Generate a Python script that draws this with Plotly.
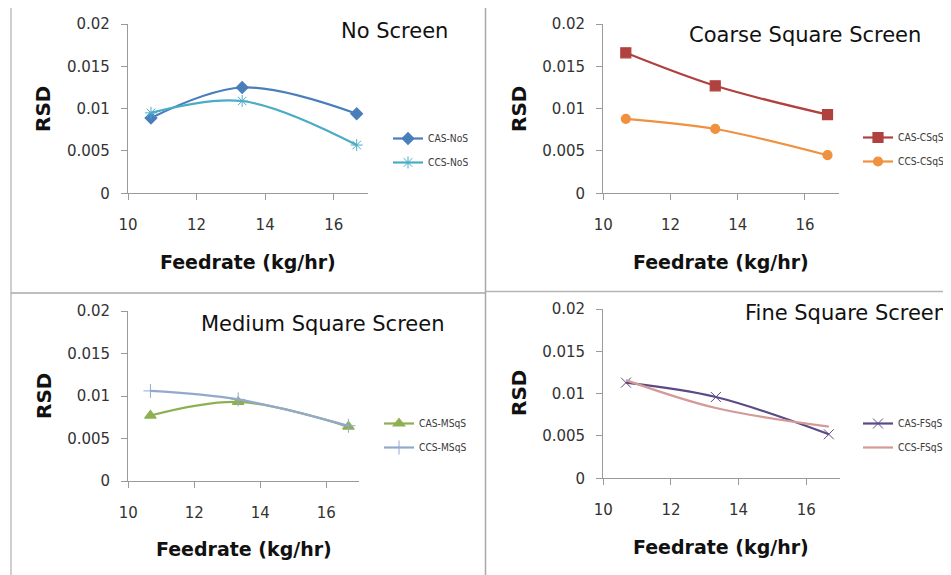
import plotly.graph_objects as go

# the page body adds an 8px margin, so the figure covers page pixels 8..951 x 8..575
OFF = 8
W, H = 951 - OFF, 575 - OFF

# ---- data ----
feedrate = [10.67, 13.33, 16.67]
cas_nos = [0.0089, 0.0125, 0.0094]
ccs_nos = [0.0095, 0.0109, 0.0057]
cas_csqs = [0.0166, 0.0127, 0.0093]
ccs_csqs = [0.0088, 0.0076, 0.0045]
cas_msqs = [0.0077, 0.0093, 0.0064]
ccs_msqs = [0.0106, 0.0096, 0.0065]
cas_fsqs = [0.0113, 0.0096, 0.0052]
ccs_fsqs = [0.0116, 0.0083, 0.0061]

panel_titles = ["No Screen", "Coarse Square Screen", "Medium Square Screen", "Fine Square Screen"]
x_title = "Feedrate (kg/hr)"
y_title = "RSD"


def px(x):
    return (x - OFF) / W


def py(y):
    return (H - (y - OFF)) / H


fig = go.Figure()

# (panel index, name, values, color, symbol, size)
series = [
    (1, "CAS-NoS", cas_nos, "#4A7EBB", "diamond", 9),
    (1, "CCS-NoS", ccs_nos, "#4BACC6", "asterisk-open", 10),
    (2, "CAS-CSqS", cas_csqs, "#B0413E", "square", 10),
    (2, "CCS-CSqS", ccs_csqs, "#F0913F", "circle", 9),
    (3, "CAS-MSqS", cas_msqs, "#8DB052", "triangle-up", 10),
    (3, "CCS-MSqS", ccs_msqs, "#93A9CC", "cross-thin-open", 10),
    (4, "CAS-FSqS", cas_fsqs, "#5B4A86", "x-thin-open", 10),
    (4, "CCS-FSqS", ccs_fsqs, "#D49A95", None, 0),
]

for i, (p, name, vals, col, sym, size) in enumerate(series):
    axsuf = "" if p == 1 else str(p)
    marker = dict(color=col, size=size, line=dict(width=1.2, color=col))
    if sym is None:
        mode = "lines"
    else:
        mode = "lines+markers"
        marker["symbol"] = sym
        if sym in ("x-thin-open", "cross-thin-open", "asterisk-open"):
            marker["line"] = dict(width=1, color=col if p != 4 else "#8878B0")
    fig.add_trace(go.Scatter(
        x=feedrate, y=vals, name=name, mode=mode,
        line=dict(color=col, width=2.2, shape="spline", smoothing=1.0),
        marker=marker,
        xaxis="x" + axsuf, yaxis="y" + axsuf,
        legend="legend" if p == 1 else "legend" + str(p),
        legendgroup=name,
    ))

# panel geometry in page pixels: (x0, x1, y_top(0.02), y_bottom(0))
panels = [
    (128, 368, 24, 193.3),
    (603.3, 838.6, 24, 193.3),
    (128.3, 359.3, 311, 481),
    (603.3, 840, 309, 478.3),
]

axis_common = dict(
    showline=True, linecolor="#9a9a9a", linewidth=1.3,
    ticks="outside", ticklen=6, tickcolor="#9a9a9a", tickwidth=1.3,
    showgrid=False, zeroline=False,
    tickfont=dict(family="DejaVu Sans, Verdana, sans-serif", size=15, color="#333333"),
    fixedrange=True,
)

layout = dict(
    width=W, height=H, autosize=False,
    margin=dict(l=0, r=0, t=0, b=0, autoexpand=False),
    paper_bgcolor="white", plot_bgcolor="white",
    showlegend=True,
)

for k, (x0, x1, yt, yb) in enumerate(panels):
    suf = "" if k == 0 else str(k + 1)
    layout["xaxis" + suf] = dict(
        axis_common, domain=[px(x0), px(x1)], range=[10, 17], dtick=2, tick0=10,
        anchor="y" + suf, ticklabelstandoff=12, automargin=False,
    )
    layout["yaxis" + suf] = dict(
        axis_common, domain=[py(yb), py(yt)], range=[0, 0.02], dtick=0.005, tick0=0,
        anchor="x" + suf, ticklabelstandoff=8, automargin=False,
    )

legend_font = dict(family="DejaVu Sans Condensed, Liberation Sans Narrow, Arial Narrow, sans-serif",
                   size=10.2, color="#3a3a3a")
legend_pos = [(388, 124), (858, 123), (379, 409), (858, 409)]
for k, (lx, ly) in enumerate(legend_pos):
    key = "legend" if k == 0 else "legend" + str(k + 1)
    layout[key] = dict(
        x=px(lx), y=py(ly), xanchor="left", yanchor="top",
        font=legend_font, bgcolor="rgba(0,0,0,0)", borderwidth=0,
        tracegroupgap=5, itemwidth=30,
    )

fig.update_layout(**layout)

# panel titles
title_pos = [(394, 31), (805, 35), (322, 324), (846, 313)]
for t, (tx, ty) in zip(panel_titles, title_pos):
    fig.add_annotation(
        text=t, x=px(tx), y=py(ty), xref="paper", yref="paper",
        xanchor="center", yanchor="middle", showarrow=False,
        font=dict(family="DejaVu Sans, Verdana, sans-serif", size=21, color="#111111"),
    )

# axis titles
xt_pos = [(248, 262), (721, 262), (244, 549), (721, 547)]
yt_pos = [(43, 109), (519, 109), (44, 396), (519, 393)]
for (xx, xy), (yx, yy) in zip(xt_pos, yt_pos):
    fig.add_annotation(
        text=x_title, x=px(xx), y=py(xy), xref="paper", yref="paper",
        xanchor="center", yanchor="middle", showarrow=False,
        font=dict(family="DejaVu Sans, Verdana, sans-serif", size=19, color="#111111", weight="bold"),
    )
    fig.add_annotation(
        text=y_title, x=px(yx), y=py(yy), xref="paper", yref="paper",
        xanchor="center", yanchor="middle", showarrow=False, textangle=-90,
        font=dict(family="DejaVu Sans, Verdana, sans-serif", size=20, color="#111111", weight="bold"),
    )

# panel borders (page pixels)
border_lines = [
    (11, 7, 951, 7, "#cfcfcf", 2),
    (11, 7, 11, 575, "#cfcfcf", 2),
    (485.5, 7, 485.5, 575, "#a8a8a8", 1.5),
    (11, 293, 485.5, 293, "#a8a8a8", 1.5),
    (485.5, 291.5, 951, 291.5, "#b5b5b5", 1.5),
]
for x0, y0, x1, y1, c, w in border_lines:
    fig.add_shape(type="line", xref="paper", yref="paper",
                  x0=px(x0), y0=py(y0), x1=px(x1), y1=py(y1),
                  line=dict(color=c, width=w))

fig.write_html("out.html")
